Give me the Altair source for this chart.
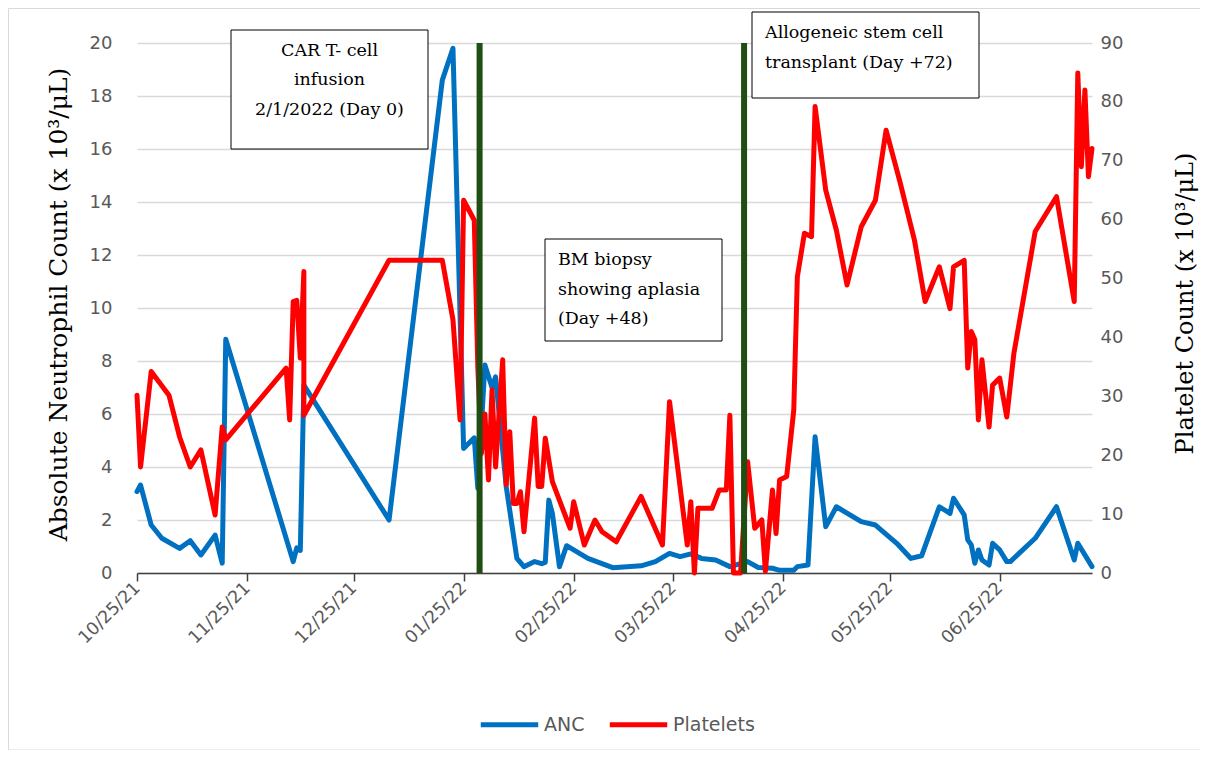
import altair as alt
import pandas as pd

# ---------------- data ----------------
anc_dates = [
    "2021-10-25", "2021-10-26", "2021-10-29", "2021-11-01", "2021-11-06", "2021-11-09",
    "2021-11-12", "2021-11-16", "2021-11-18", "2021-11-19", "2021-12-08", "2021-12-09",
    "2021-12-10", "2021-12-11", "2022-01-04", "2022-01-19", "2022-01-22", "2022-01-25",
    "2022-01-28", "2022-01-29", "2022-01-31", "2022-02-02", "2022-02-03", "2022-02-06",
    "2022-02-09", "2022-02-11", "2022-02-14", "2022-02-16", "2022-02-17", "2022-02-18",
    "2022-02-19", "2022-02-21", "2022-02-23", "2022-03-01", "2022-03-08", "2022-03-16",
    "2022-03-20", "2022-03-24", "2022-03-27", "2022-03-30", "2022-04-02", "2022-04-06",
    "2022-04-10", "2022-04-15", "2022-04-18", "2022-04-22", "2022-04-24", "2022-04-28",
    "2022-04-29", "2022-05-02", "2022-05-04", "2022-05-07", "2022-05-10", "2022-05-17",
    "2022-05-21", "2022-05-27", "2022-05-31", "2022-06-03", "2022-06-08", "2022-06-11",
    "2022-06-12", "2022-06-15", "2022-06-16", "2022-06-17", "2022-06-18", "2022-06-19",
    "2022-06-20", "2022-06-22", "2022-06-23", "2022-06-25", "2022-06-27", "2022-06-28",
    "2022-07-05", "2022-07-11", "2022-07-16", "2022-07-17", "2022-07-21",
]
anc_values = [
    3.07, 3.32, 1.81, 1.31, 0.93, 1.22,
    0.68, 1.43, 0.37, 8.82, 0.43, 0.95,
    0.85, 7.09, 2.0, 18.6, 19.8, 4.7,
    5.1, 3.2, 7.85, 7.0, 7.4, 3.26,
    0.55, 0.24, 0.43, 0.35, 0.4, 2.75,
    2.25, 0.24, 1.03, 0.55, 0.2, 0.27,
    0.43, 0.74, 0.62, 0.72, 0.55, 0.49,
    0.24, 0.43, 0.21, 0.18, 0.1, 0.1,
    0.24, 0.3, 5.14, 1.75, 2.5, 1.94,
    1.81, 1.12, 0.55, 0.65, 2.5, 2.25,
    2.82, 2.19, 1.25, 1.06, 0.37, 0.87,
    0.49, 0.3, 1.12, 0.87, 0.43, 0.43,
    1.31, 2.5, 0.49, 1.12, 0.24,
]

plt_dates = [
    "2021-10-25", "2021-10-26", "2021-10-29", "2021-11-03", "2021-11-06", "2021-11-09",
    "2021-11-12", "2021-11-16", "2021-11-18", "2021-11-19", "2021-12-06", "2021-12-07",
    "2021-12-08", "2021-12-09", "2021-12-10", "2021-12-11", "2021-12-11", "2022-01-04",
    "2022-01-19", "2022-01-22", "2022-01-24", "2022-01-25", "2022-01-28", "2022-01-29",
    "2022-01-30", "2022-01-31", "2022-02-01", "2022-02-02", "2022-02-03", "2022-02-05",
    "2022-02-06", "2022-02-07", "2022-02-08", "2022-02-09", "2022-02-10", "2022-02-11",
    "2022-02-14", "2022-02-15", "2022-02-16", "2022-02-17", "2022-02-19", "2022-02-24",
    "2022-02-25", "2022-02-28", "2022-03-03", "2022-03-05", "2022-03-09", "2022-03-16",
    "2022-03-22", "2022-03-24", "2022-03-29", "2022-03-30", "2022-03-31", "2022-04-01",
    "2022-04-05", "2022-04-07", "2022-04-09", "2022-04-10", "2022-04-11", "2022-04-13",
    "2022-04-15", "2022-04-17", "2022-04-19", "2022-04-20", "2022-04-22", "2022-04-23",
    "2022-04-24", "2022-04-26", "2022-04-28", "2022-04-29", "2022-05-01", "2022-05-03",
    "2022-05-04", "2022-05-07", "2022-05-10", "2022-05-13", "2022-05-17", "2022-05-21",
    "2022-05-24", "2022-05-28", "2022-06-01", "2022-06-04", "2022-06-08", "2022-06-11",
    "2022-06-12", "2022-06-15", "2022-06-16", "2022-06-17", "2022-06-18", "2022-06-19",
    "2022-06-20", "2022-06-22", "2022-06-23", "2022-06-25", "2022-06-27", "2022-06-29",
    "2022-07-05", "2022-07-11", "2022-07-16", "2022-07-17", "2022-07-18", "2022-07-19",
    "2022-07-20", "2022-07-21",
]
plt_values = [
    30.2, 18.0, 34.2, 30.2, 23.1, 18.0,
    20.9, 9.85, 24.8, 22.6, 34.8, 26.0,
    46.1, 46.3, 36.5, 51.2, 26.8, 53.1,
    53.1, 43.0, 26.0, 63.3, 59.9, 35.0,
    20.3, 27.0, 15.8, 31.1, 18.0, 36.2,
    15.0, 24.0, 11.8, 11.8, 13.8, 7.0,
    26.3, 14.7, 14.7, 22.9, 15.5, 7.6,
    12.1, 4.75, 9.0, 7.0, 5.3, 13.0,
    4.75, 29.1, 4.75, 12.1, 0.0, 11.0,
    11.0, 14.1, 14.1, 26.8, 0.0, 0.0,
    18.9, 7.6, 9.0, 0.3, 14.1, 6.7,
    15.8, 16.4, 27.7, 50.3, 57.7, 57.1,
    79.2, 65.0, 58.2, 48.9, 58.8, 63.3,
    75.2, 66.2, 56.5, 46.1, 52.0, 44.9,
    52.0, 53.1, 34.8, 41.0, 39.6, 26.0,
    36.2, 24.8, 31.9, 33.1, 26.5, 37.3,
    58.0, 63.9, 46.1, 84.9, 69.0, 82.0,
    67.3, 72.1,
]

event_dates = ["2022-01-29T12:00:00Z", "2022-04-14T00:00:00Z"]

x_tick_dates = [(2021, 10, 25), (2021, 11, 25), (2021, 12, 25), (2022, 1, 25), (2022, 2, 25),
                (2022, 3, 25), (2022, 4, 25), (2022, 5, 25), (2022, 6, 25)]
left_ticks = [0, 2, 4, 6, 8, 10, 12, 14, 16, 18, 20]
right_ticks = [0, 10, 20, 30, 40, 50, 60, 70, 80, 90]
series_names = ["ANC", "Platelets"]
series_colors = ["#0070C0", "#FF0000"]

anc_df = pd.DataFrame({"date": anc_dates, "value": anc_values, "series": "ANC",
                       "order": list(range(len(anc_dates)))})
plt_df = pd.DataFrame({"date": plt_dates, "value": plt_values, "series": "Platelets",
                       "order": list(range(len(plt_dates)))})
events_df = pd.DataFrame({"date": event_dates})

# ---------------- layout ----------------
W, H = 955, 530
PAD = {"left": 129, "top": 35, "right": 109, "bottom": 177}

GRAY = "#595959"
SERIF = "DejaVu Serif"
SANS = "DejaVu Sans"

def dt(t):
    return alt.DateTime(year=t[0], month=t[1], date=t[2], utc=True)

xenc = alt.X(
    "date:T",
    scale=alt.Scale(type="utc", domain=[dt((2021, 10, 25)), dt((2022, 7, 21))]),
    axis=alt.Axis(
        values=[dt(t) for t in x_tick_dates],
        labelExpr="utcFormat(datum.value, '%m/%d/%y')",
        labelAngle=-45, labelAlign="right", labelBaseline="middle",
        labelFont=SANS, labelFontSize=17.5, labelColor=GRAY, labelPadding=4,
        tickSize=8, tickColor="#404040", tickWidth=1.5,
        domainColor="#404040", domainWidth=1.5, grid=False, title=None,
    ),
)

color = alt.Color(
    "series:N",
    scale=alt.Scale(domain=series_names, range=series_colors),
    legend=alt.Legend(
        title=None, orient="none", direction="horizontal", legendX=341, legendY=650,
        symbolType="stroke", symbolStrokeWidth=5, symbolSize=3300,
        labelFont=SANS, labelFontSize=19, labelColor=GRAY, labelOffset=3,
        columnPadding=14,
    ),
)

anc_line = alt.Chart(anc_df).mark_line(strokeWidth=5, strokeJoin="round", strokeCap="round").encode(
    x=xenc,
    y=alt.Y(
        "value:Q",
        scale=alt.Scale(domain=[0, 20], nice=False),
        axis=alt.Axis(
            orient="left", values=left_ticks, grid=True, gridColor="#d9d9d9", gridWidth=1.5,
            domain=False, ticks=False, labelFont=SANS, labelFontSize=18, labelColor=GRAY,
            labelPadding=25,
            title="Absolute Neutrophil Count (x 10³/μL)", titleFont=SERIF, titleFontSize=25,
            titleFontWeight="normal", titleColor="black", titleX=-79, titleY=261,
            titleAngle=270, titleBaseline="middle", titleAlign="center",
        ),
    ),
    color=color,
    order=alt.Order("order:Q"),
)

plt_line = alt.Chart(plt_df).mark_line(strokeWidth=5, strokeJoin="round", strokeCap="round").encode(
    x=xenc,
    y=alt.Y(
        "value:Q",
        scale=alt.Scale(domain=[0, 90], nice=False),
        axis=alt.Axis(
            orient="right", values=right_ticks, grid=False, domain=False, ticks=False,
            labelFont=SANS, labelFontSize=18, labelColor=GRAY, labelPadding=8,
            title="Platelet Count (x 10³/μL)", titleFont=SERIF, titleFontSize=24,
            titleFontWeight="normal", titleColor="black", titleX=93, titleY=260,
            titleAngle=270, titleBaseline="middle", titleAlign="center",
        ),
    ),
    color=color,
    order=alt.Order("order:Q"),
)

events = alt.Chart(events_df).mark_rule(color="#1F4E14", strokeWidth=6).encode(x=xenc)

one = alt.Data(values=[{}])

def box(x1, x2, y1, y2):
    return alt.Chart(one).mark_rect(fill="white", stroke="black", strokeWidth=1).encode(
        x=alt.value(x1), x2=alt.value(x2), y=alt.value(y1), y2=alt.value(y2))

def label(lines, x, y, align):
    return alt.Chart(one).mark_text(
        text=lines, align=align, baseline="middle", lineHeight=29.7,
        font=SERIF, fontSize=17.5, color="black",
    ).encode(x=alt.value(x), y=alt.value(y))

box1 = box(94, 291, -13, 106)
txt1 = label(["CAR T- cell", "infusion", "2/1/2022 (Day 0)"], 192.5, 7.7, "center")
box2 = box(408, 585, 196, 298)
txt2 = label(["BM biopsy", "showing aplasia", "(Day +48)"], 421, 217, "left")
box3 = box(615, 842, -31, 55)
txt3 = label(["Allogeneic stem cell", "transplant (Day +72)"], 628, -10, "left")

border_left = alt.Chart(one).mark_rule(color="#d9d9d9", strokeWidth=1).encode(
    x=alt.value(-128.5), y=alt.value(-34.5), y2=alt.value(707))
border_top = alt.Chart(one).mark_rule(color="#d9d9d9", strokeWidth=1).encode(
    x=alt.value(-128.5), x2=alt.value(1063), y=alt.value(-34.5))
border_bottom = alt.Chart(one).mark_rule(color="#d9d9d9", strokeWidth=1).encode(
    x=alt.value(-128.5), x2=alt.value(1063), y=alt.value(707))

chart = alt.layer(
    border_left, border_top, border_bottom,
    anc_line, plt_line, events, box1, txt1, box2, txt2, box3, txt3,
).resolve_scale(y="independent").properties(
    width=W, height=H,
    autosize=alt.AutoSizeParams(type="none"),
    padding=PAD,
).configure_view(stroke=None)

chart.save("out.html", embed_options={"renderer": "svg", "actions": False})
